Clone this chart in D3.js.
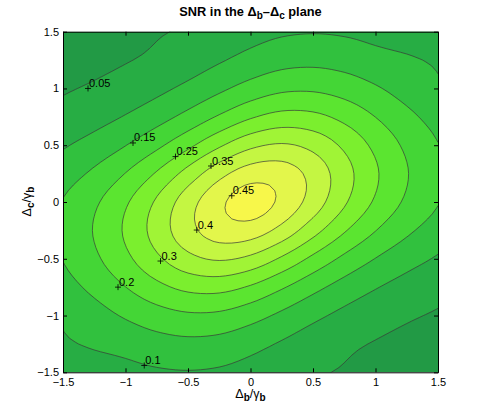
<!DOCTYPE html>
<html>
<head>
<meta charset="utf-8">
<script src="https://cdn.jsdelivr.net/npm/d3@7"></script>
<style>
  body { margin: 0; background: #fff; }
  text { font-family: "Liberation Sans", Arial, Helvetica, sans-serif; }
</style>
</head>
<body>
<svg id="chart" width="485" height="419"></svg>
<script>
// grid of SNR values (rows top to bottom)
var dbValues = [-1.5, -1.25, -1, -0.75, -0.5, -0.25, 0, 0.25, 0.5, 0.75, 1, 1.25, 1.5];
var dcValues = [1.5, 1.25, 1, 0.75, 0.5, 0.25, 0, -0.25, -0.5, -0.75, -1, -1.25, -1.5];
var snrRows = [
  [0.0213, 0.0262, 0.0325, 0.0460, 0.0550, 0.0656, 0.0805, 0.0929, 0.0973, 0.0938, 0.0853, 0.0760, 0.0680],
  [0.0309, 0.0379, 0.0473, 0.0596, 0.0756, 0.0952, 0.1162, 0.1327, 0.1373, 0.1304, 0.1163, 0.1060, 0.0940],
  [0.0453, 0.0558, 0.0697, 0.0880, 0.1116, 0.1400, 0.1692, 0.1899, 0.1925, 0.1788, 0.1555, 0.1297, 0.1061],
  [0.0664, 0.0822, 0.1030, 0.1304, 0.1652, 0.2057, 0.2443, 0.2669, 0.2625, 0.2362, 0.1995, 0.1626, 0.1308],
  [0.0950, 0.1182, 0.1488, 0.1887, 0.2381, 0.2925, 0.3381, 0.3551, 0.3354, 0.2905, 0.2382, 0.1905, 0.1516],
  [0.1273, 0.1592, 0.2013, 0.2552, 0.3193, 0.3835, 0.4262, 0.4259, 0.3835, 0.3200, 0.2564, 0.2027, 0.1607],
  [0.1524, 0.1917, 0.2431, 0.3070, 0.3781, 0.4391, 0.4750, 0.4391, 0.3781, 0.3070, 0.2431, 0.1917, 0.1524],
  [0.1607, 0.2027, 0.2564, 0.3200, 0.3835, 0.4259, 0.4262, 0.3835, 0.3193, 0.2552, 0.2013, 0.1592, 0.1273],
  [0.1516, 0.1905, 0.2382, 0.2905, 0.3354, 0.3551, 0.3381, 0.2925, 0.2381, 0.1887, 0.1488, 0.1182, 0.0950],
  [0.1308, 0.1626, 0.1995, 0.2362, 0.2625, 0.2669, 0.2443, 0.2057, 0.1652, 0.1304, 0.1030, 0.0822, 0.0664],
  [0.1061, 0.1297, 0.1555, 0.1788, 0.1925, 0.1899, 0.1692, 0.1400, 0.1116, 0.0880, 0.0697, 0.0558, 0.0453],
  [0.0940, 0.1060, 0.1163, 0.1304, 0.1373, 0.1327, 0.1162, 0.0952, 0.0756, 0.0596, 0.0473, 0.0379, 0.0309],
  [0.0680, 0.0760, 0.0853, 0.0938, 0.0973, 0.0929, 0.0805, 0.0656, 0.0550, 0.0460, 0.0325, 0.0262, 0.0213]
];
var levels = [0.05, 0.1, 0.15, 0.2, 0.25, 0.3, 0.35, 0.4, 0.45];
var bandColors = ["#229a45", "#27ad44", "#31c13e", "#44d636", "#5be530", "#7bef2e", "#a0f436", "#c4f642", "#e3f64b", "#f7f74a"];
var tickValues = [-1.5, -1, -0.5, 0, 0.5, 1, 1.5];

// clabel positions
var labelLevels = [0.05, 0.15, 0.25, 0.35, 0.45, 0.4, 0.3, 0.2, 0.1];
var labelDb = [-1.30, -0.94, -0.60, -0.316, -0.15, -0.43, -0.72, -1.06, -0.85];
var labelDc = [1.0, 0.52, 0.40, 0.317, 0.055, -0.247, -0.52, -0.75, -1.44];

(function() {
  var svg = d3.select("#chart");
  var pL = 63, pR = 438, pT = 31.7, pB = 372.3;

  var x = d3.scaleLinear().domain(d3.extent(dbValues)).range([pL, pR]);
  var y = d3.scaleLinear().domain(d3.extent(dcValues)).range([pB, pT]);

  svg.append("clipPath").attr("id", "plotClip")
    .append("rect")
      .attr("x", pL).attr("y", pT)
      .attr("width", pR - pL).attr("height", pB - pT);

  var plot = svg.append("g").attr("clip-path", "url(#plotClip)");

  plot.append("rect")
    .attr("x", pL).attr("y", pT)
    .attr("width", pR - pL).attr("height", pB - pT)
    .attr("fill", bandColors[0]);

  // smooth surface through the grid (cubic), drawn on a finer mesh
  var nx = dbValues.length, ny = dcValues.length, sub = 5;
  function at(r, c) {
    // linear extension past the edges
    if (c < 0) return 2 * at(r, 0) - at(r, 1);
    if (c > nx - 1) return 2 * at(r, nx - 1) - at(r, nx - 2);
    if (r < 0) return 2 * at(0, c) - at(1, c);
    if (r > ny - 1) return 2 * at(ny - 1, c) - at(ny - 2, c);
    return snrRows[r][c];
  }
  function cub(p0, p1, p2, p3, t) {
    return 0.5 * (2 * p1 + (p2 - p0) * t + (2 * p0 - 5 * p1 + 4 * p2 - p3) * t * t + (3 * p1 - p0 - 3 * p2 + p3) * t * t * t);
  }
  function surf(fr, fc) {
    var r = Math.min(Math.floor(fr), ny - 2), c = Math.min(Math.floor(fc), nx - 2);
    var tr = fr - r, tc = fc - c, rows = [];
    for (var k = -1; k <= 2; k++) {
      rows.push(cub(at(r + k, c - 1), at(r + k, c), at(r + k, c + 1), at(r + k, c + 2), tc));
    }
    return cub(rows[0], rows[1], rows[2], rows[3], tr);
  }
  var fw = (nx - 1) * sub + 1, fh = (ny - 1) * sub + 1;
  var gw = fw + 2, gh = fh + 2;
  var flat = new Array(gw * gh);
  for (var j = 0; j < gh; j++) {
    for (var i = 0; i < gw; i++) {
      var jj = Math.min(fh - 1, Math.max(0, j - 1));
      var ii = Math.min(fw - 1, Math.max(0, i - 1));
      flat[j * gw + i] = surf(jj / sub, ii / sub);
    }
  }
  var contours = d3.contours().size([gw, gh]).thresholds(levels)(flat);

  var stepX = (dbValues[1] - dbValues[0]) / sub, stepY = (dcValues[1] - dcValues[0]) / sub;
  var ringLine = d3.line()
    .x(function(p) { return x(dbValues[0] + (p[0] - 1.5) * stepX); })
    .y(function(p) { return y(dcValues[0] + (p[1] - 1.5) * stepY); });

  function contourPath(mp) {
    var s = "";
    mp.coordinates.forEach(function(poly) {
      poly.forEach(function(ring) { s += ringLine(ring) + "Z"; });
    });
    return s;
  }

  plot.selectAll("path.band")
    .data(contours)
    .enter().append("path")
      .attr("class", "band")
      .attr("d", contourPath)
      .attr("fill", function(d, k) { return bandColors[k + 1]; })
      .attr("fill-rule", "evenodd");

  plot.selectAll("path.iso")
    .data(contours)
    .enter().append("path")
      .attr("class", "iso")
      .attr("d", contourPath)
      .attr("fill", "none")
      .attr("stroke", "#3a3a3a")
      .attr("stroke-width", 0.7);

  // contour labels with + markers
  var labels = svg.append("g");
  labelLevels.forEach(function(v, k) {
    var px = x(labelDb[k]), py = y(labelDc[k]);
    labels.append("path")
      .attr("d", "M" + (px - 3) + "," + py + "h6M" + px + "," + (py - 3) + "v6")
      .attr("stroke", "#000").attr("stroke-width", 0.8);
    labels.append("text")
      .attr("x", px + 1).attr("y", py - 1.5)
      .attr("font-size", 11)
      .text(String(v));
  });

  // axes, ticks inside on all four sides
  var fmt = d3.format("");
  function styleAxis(g) {
    g.selectAll("text").attr("font-size", 11).attr("font-family", "Liberation Sans, Arial, sans-serif").attr("fill", "#000");
    g.selectAll("line").attr("stroke", "#000");
    g.select(".domain").attr("stroke", "#000");
  }
  svg.append("g").attr("transform", "translate(0," + pB + ")")
    .call(d3.axisBottom(x).tickValues(tickValues).tickFormat(fmt).tickSizeInner(-4).tickSizeOuter(0).tickPadding(6))
    .call(styleAxis);
  svg.append("g").attr("transform", "translate(" + pL + ",0)")
    .call(d3.axisLeft(y).tickValues(tickValues).tickFormat(fmt).tickSizeInner(-4).tickSizeOuter(0).tickPadding(4))
    .call(styleAxis);
  svg.append("g").attr("transform", "translate(0," + pT + ")")
    .call(d3.axisTop(x).tickValues(tickValues).tickSizeInner(-4).tickSizeOuter(0).tickFormat(""))
    .call(styleAxis);
  svg.append("g").attr("transform", "translate(" + pR + ",0)")
    .call(d3.axisRight(y).tickValues(tickValues).tickSizeInner(-4).tickSizeOuter(0).tickFormat(""))
    .call(styleAxis);

  // title and axis labels
  var title = svg.append("text")
    .attr("x", 250.5).attr("y", 16)
    .attr("text-anchor", "middle")
    .attr("font-size", 12.8).attr("font-weight", "bold");
  title.append("tspan").text("SNR in the \u0394");
  title.append("tspan").attr("dy", 3).attr("font-size", 10).text("b");
  title.append("tspan").attr("dy", -3).text("\u2013\u0394");
  title.append("tspan").attr("dy", 3).attr("font-size", 10).text("c");
  title.append("tspan").attr("dy", -3).text(" plane");

  var xl = svg.append("text")
    .attr("x", 250.5).attr("y", 398)
    .attr("text-anchor", "middle")
    .attr("font-size", 12.5);
  xl.append("tspan").text("\u0394");
  xl.append("tspan").attr("dy", 3).attr("font-size", 10).attr("font-weight", "bold").text("b");
  xl.append("tspan").attr("dy", -3).text("/\u03b3");
  xl.append("tspan").attr("dy", 3).attr("font-size", 10).attr("font-weight", "bold").text("b");

  var yl = svg.append("text")
    .attr("transform", "translate(31,201.5) rotate(-90)")
    .attr("text-anchor", "middle")
    .attr("font-size", 12.5);
  yl.append("tspan").text("\u0394");
  yl.append("tspan").attr("dy", 3).attr("font-size", 10).attr("font-weight", "bold").text("c");
  yl.append("tspan").attr("dy", -3).text("/\u03b3");
  yl.append("tspan").attr("dy", 3).attr("font-size", 10).attr("font-weight", "bold").text("b");
})();
</script>
</body>
</html>
